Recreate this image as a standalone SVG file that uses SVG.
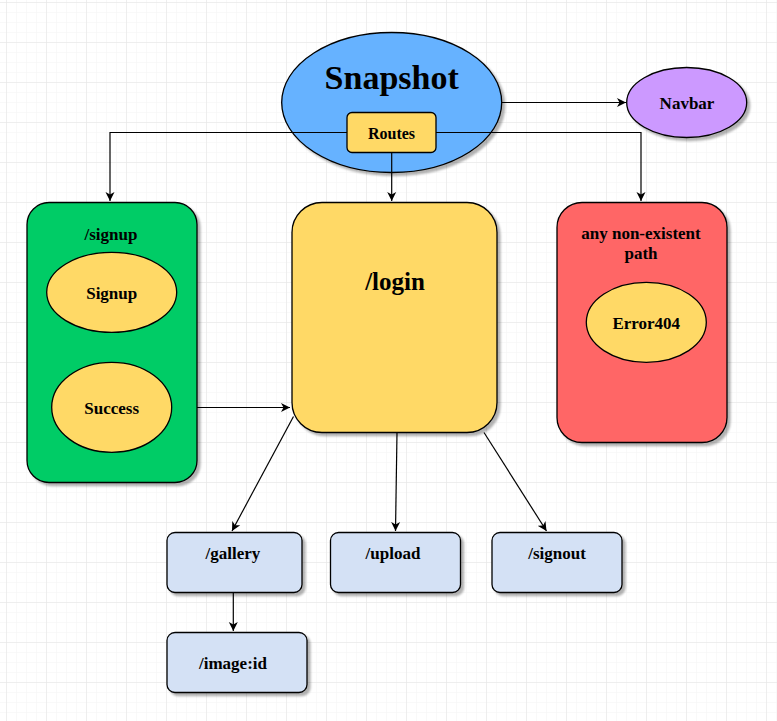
<svg xmlns="http://www.w3.org/2000/svg" width="777" height="721" viewBox="0 0 777 721">
<style>
.lbl{font-family:'Liberation Serif','DejaVu Serif',serif;font-weight:bold;fill:#000;text-anchor:middle}
.s{font-size:17px}
.shape{stroke:#000;stroke-width:1.3}
.conn{fill:none;stroke:#000;stroke-width:1.2}
</style>
<defs>
<pattern id="minor" width="10" height="10" patternUnits="userSpaceOnUse" x="6" y="2">
<path d="M0 0H10M0 0V10" fill="none" stroke="#f4f4f4" stroke-width="1"/>
</pattern>
<pattern id="major" width="40" height="40" patternUnits="userSpaceOnUse" x="6" y="2">
<path d="M0 0H40M0 0V40" fill="none" stroke="#e4e4e4" stroke-width="1"/>
</pattern>
<filter id="sh" x="-10%" y="-10%" width="130%" height="130%">
<feDropShadow dx="3" dy="3" stdDeviation="0.8" flood-color="#000" flood-opacity="0.3"/>
</filter>
<marker id="arr" markerWidth="10" markerHeight="10" viewBox="0 0 10 10" refX="9" refY="5" orient="auto" markerUnits="userSpaceOnUse">
<path d="M0 0.5L9 5L0 9.5L2.5 5Z" fill="#000"/>
</marker>
</defs>
<rect width="777" height="721" fill="#fff"/>
<rect width="777" height="721" fill="url(#minor)"/>
<rect width="777" height="721" fill="url(#major)"/>

<g id="snapshot">
<ellipse class="shape" cx="391.7" cy="102.5" rx="110" ry="70" fill="#66B2FF" filter="url(#sh)"/>
<text class="lbl" x="391.7" y="89" font-size="34" font-family="Liberation Serif, DejaVu Serif, serif">Snapshot</text>
</g>

<g id="connectors">
<path class="conn" d="M502 102.5H626" marker-end="url(#arr)"/>
<path class="conn" d="M347 132.5H110V201" marker-end="url(#arr)"/>
<path class="conn" d="M436 132.5H641V201" marker-end="url(#arr)"/>
<path class="conn" d="M391.7 152.5V201" marker-end="url(#arr)"/>
<path class="conn" d="M111.7 332.3V362.3"/>
<path class="conn" d="M171.7 407.5H290" marker-end="url(#arr)"/>
<path class="conn" d="M293.5 416.5L232 531" marker-end="url(#arr)"/>
<path class="conn" d="M397 432.5L395.5 531" marker-end="url(#arr)"/>
<path class="conn" d="M484 432.5L546.5 531" marker-end="url(#arr)"/>
<path class="conn" d="M233.3 592.5V631" marker-end="url(#arr)"/>
</g>

<g id="routes">
<rect class="shape" x="347" y="112.5" width="89" height="40" rx="5" fill="#FFD966"/>
<text class="lbl" x="391.5" y="139" font-size="16">Routes</text>
</g>
<g id="navbar">
<ellipse class="shape" cx="686.7" cy="102.5" rx="60" ry="35" fill="#CC99FF" filter="url(#sh)"/>
<text class="lbl s" x="687" y="109">Navbar</text>
</g>

<g id="signup-route">
<rect class="shape" x="27" y="202.5" width="170" height="280" rx="22" fill="#00CC66" filter="url(#sh)"/>
<text class="lbl s" x="111" y="240">/signup</text>
</g>
<g id="signup">
<ellipse class="shape" cx="111.7" cy="292.3" rx="65" ry="40" fill="#FFD966"/>
<text class="lbl s" x="111.7" y="299">Signup</text>
</g>
<g id="success">
<ellipse class="shape" cx="111.7" cy="407.3" rx="60" ry="45" fill="#FFD966"/>
<text class="lbl s" x="111.7" y="414">Success</text>
</g>

<g id="login">
<rect class="shape" x="292" y="202.5" width="205" height="230" rx="30" fill="#FFD966" filter="url(#sh)"/>
<text class="lbl" x="395" y="290" font-size="25">/login</text>
</g>

<g id="error-route">
<rect class="shape" x="557" y="202.5" width="170" height="240" rx="25" fill="#FF6666" filter="url(#sh)"/>
<text class="lbl s" x="641" y="239">any non-existent</text>
<text class="lbl s" x="641" y="259">path</text>
</g>
<g id="error404">
<ellipse class="shape" cx="646.3" cy="322.3" rx="60" ry="40" fill="#FFD966"/>
<text class="lbl s" x="646.3" y="329">Error404</text>
</g>

<g id="gallery">
<rect class="shape" x="167" y="532.5" width="135" height="60" rx="8" fill="#D4E1F5" filter="url(#sh)"/>
<text class="lbl s" x="233" y="559">/gallery</text>
</g>
<g id="upload">
<rect class="shape" x="330.5" y="532.5" width="130" height="60" rx="8" fill="#D4E1F5" filter="url(#sh)"/>
<text class="lbl s" x="393" y="559">/upload</text>
</g>
<g id="signout">
<rect class="shape" x="492" y="532.5" width="130" height="60" rx="8" fill="#D4E1F5" filter="url(#sh)"/>
<text class="lbl s" x="557" y="559">/signout</text>
</g>
<g id="imageid">
<rect class="shape" x="167" y="632.5" width="140" height="60" rx="8" fill="#D4E1F5" filter="url(#sh)"/>
<text class="lbl s" x="233" y="669">/image:id</text>
</g>
</svg>
